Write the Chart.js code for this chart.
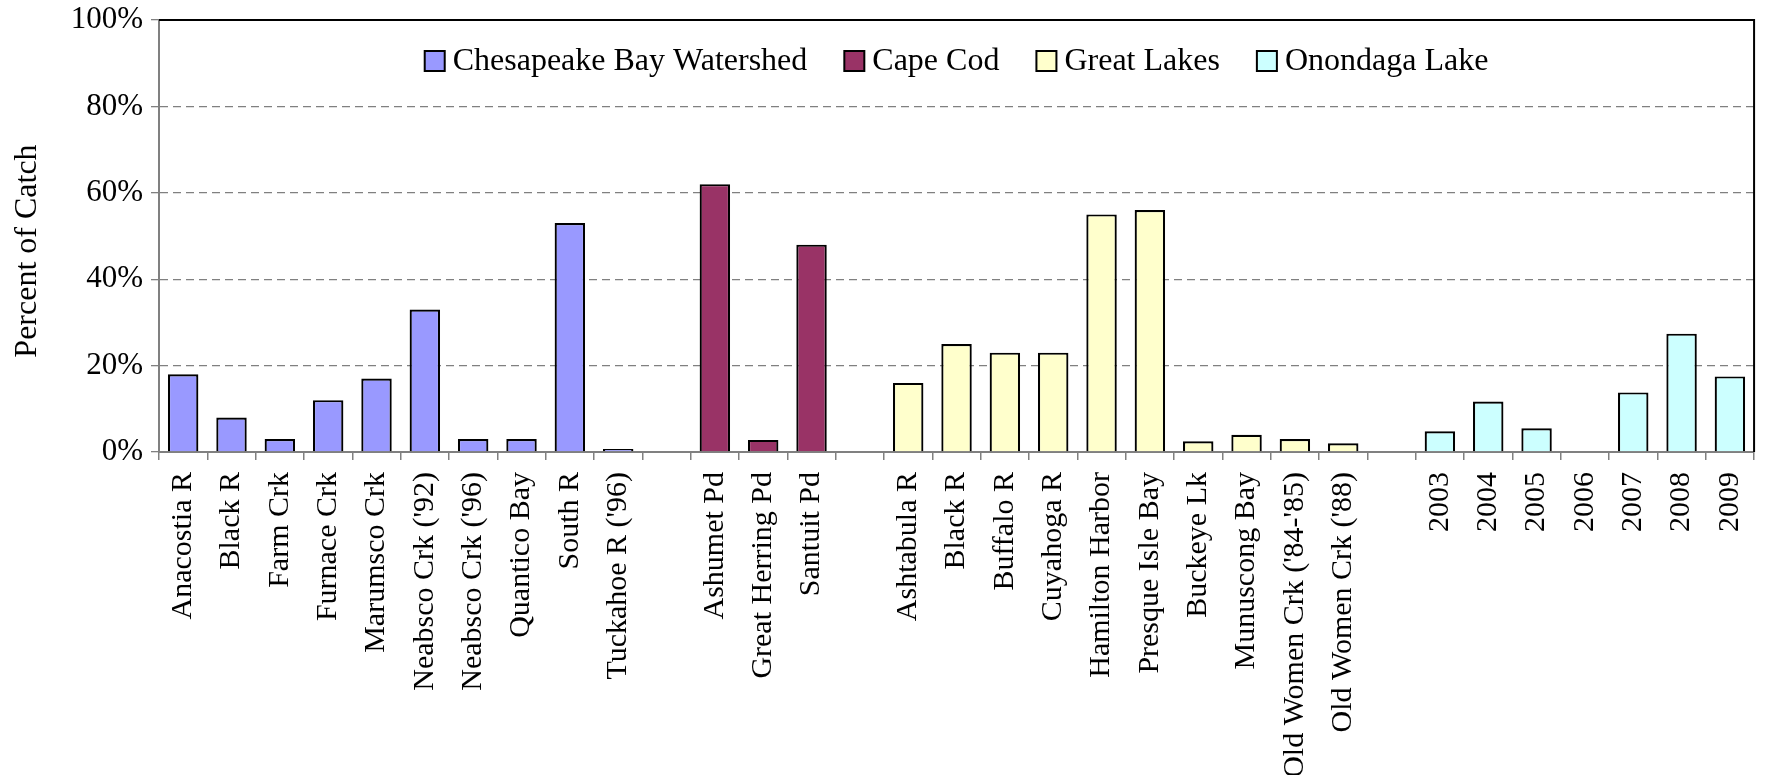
<!DOCTYPE html>
<html>
<head>
<meta charset="utf-8">
<title>Percent of Catch</title>
<script src="https://cdn.jsdelivr.net/npm/chart.js@4.4.1/dist/chart.umd.min.js"></script>
<style>
  html, body { margin: 0; padding: 0; background: #fff; }
  canvas { display: block; }
</style>
</head>
<body>
<canvas id="catchChart" width="1778" height="775"></canvas>
<script>
// Sites and percent of catch, one pair of arrays per region
const chesapeakeSites = ['Anacostia R', 'Black R', 'Farm Crk', 'Furnace Crk', 'Marumsco Crk',
  "Neabsco Crk ('92)", "Neabsco Crk ('96)", 'Quantico Bay', 'South R', "Tuckahoe R ('96)"];
const chesapeakeValues = [18, 8, 3, 12, 17, 33, 3, 3, 53, 0.7];

const capeCodSites = ['Ashumet Pd', 'Great Herring Pd', 'Santuit Pd'];
const capeCodValues = [62, 2.8, 48];

const greatLakesSites = ['Ashtabula R', 'Black R', 'Buffalo R', 'Cuyahoga R', 'Hamilton Harbor',
  'Presque Isle Bay', 'Buckeye Lk', 'Munuscong Bay', "Old Women Crk ('84-'85)", "Old Women Crk ('88)"];
const greatLakesValues = [16, 25, 23, 23, 55, 56, 2.5, 4, 3, 2];

const onondagaYears = ['2003', '2004', '2005', '2006', '2007', '2008', '2009'];
const onondagaValues = [4.8, 11.7, 5.5, 0, 13.8, 27.4, 17.5];

const yTicks = [0, 20, 40, 60, 80, 100];
const yTitle = 'Percent of Catch';

const groups = [
  { name: 'Chesapeake Bay Watershed', sites: chesapeakeSites, values: chesapeakeValues, color: '#9999FF' },
  { name: 'Cape Cod', sites: capeCodSites, values: capeCodValues, color: '#993366' },
  { name: 'Great Lakes', sites: greatLakesSites, values: greatLakesValues, color: '#FFFFCC' },
  { name: 'Onondaga Lake', sites: onondagaYears, values: onondagaValues, color: '#CCFFFF' }
];

// One blank category between regions
const labels = [];
const starts = [];
groups.forEach((g, i) => {
  if (i > 0) labels.push('');
  starts.push(labels.length);
  labels.push(...g.sites);
});

const datasets = groups.map((g, i) => {
  const data = labels.map(() => null);
  g.values.forEach((v, j) => { data[starts[i] + j] = v; });
  return {
    label: g.name,
    data: data,
    backgroundColor: g.color,
    borderColor: '#000',
    borderWidth: 2.2,
    grouped: false,
    barPercentage: 0.63,
    categoryPercentage: 1
  };
});

const FONT = 'Liberation Serif';

// Legend inside the plot area, black frame on top and right, and the y title
const insideLegend = {
  id: 'insideLegend',
  afterDraw(chart) {
    const { ctx, chartArea } = chart;
    ctx.save();
    ctx.strokeStyle = '#000';
    ctx.lineWidth = 2;
    ctx.beginPath();
    ctx.moveTo(chartArea.left, chartArea.top);
    ctx.lineTo(chartArea.right, chartArea.top);
    ctx.lineTo(chartArea.right, chartArea.bottom);
    ctx.stroke();

    ctx.font = '32px "' + FONT + '"';
    ctx.textBaseline = 'middle';
    const box = 20, textGap = 8, itemGap = 37;
    const items = chart.data.datasets.map(ds => ({
      label: ds.label,
      fill: ds.backgroundColor,
      w: ctx.measureText(ds.label).width
    }));
    const total = items.reduce((s, it) => s + box + textGap + it.w, 0) + itemGap * (items.length - 1);
    let x = (chartArea.left + chartArea.right) / 2 - total / 2;
    const cy = chartArea.top + 41;
    items.forEach(it => {
      ctx.fillStyle = it.fill;
      ctx.fillRect(x, cy - box / 2, box, box);
      ctx.strokeRect(x, cy - box / 2, box, box);
      ctx.fillStyle = '#000';
      ctx.fillText(it.label, x + box + textGap, cy + 1);
      x += box + textGap + it.w + itemGap;
    });

    // y axis title, sits a little below the middle of the axis
    ctx.translate(28, (chartArea.top + chartArea.bottom) / 2 + 15);
    ctx.rotate(-Math.PI / 2);
    ctx.textAlign = 'center';
    ctx.fillText(yTitle, 0, 0);
    ctx.restore();
  }
};

new Chart(document.getElementById('catchChart'), {
  type: 'bar',
  data: { labels: labels, datasets: datasets },
  plugins: [insideLegend],
  options: {
    responsive: false,
    animation: false,
    layout: { padding: { top: 20, right: 6, bottom: 0, left: 0 } },
    plugins: {
      legend: { display: false },
      tooltip: { enabled: false }
    },
    scales: {
      x: {
        afterFit: scale => { scale.height = 323; },
        grid: {
          display: true,
          drawOnChartArea: false,
          offset: true,
          tickLength: 8,
          color: '#808080',
          lineWidth: 1.5
        },
        border: { color: '#808080', width: 2 },
        ticks: {
          autoSkip: false,
          minRotation: 90,
          maxRotation: 90,
          padding: 12,
          color: '#000',
          font: { family: FONT, size: 30 }
        }
      },
      y: {
        min: 0,
        max: 100,
        afterFit: scale => {
          scale.width = 159;
          scale.paddingTop = 0;
          scale.paddingBottom = 0;
        },
        afterBuildTicks: scale => { scale.ticks = yTicks.map(v => ({ value: v })); },
        grid: {
          color: c => (c.tick && (c.tick.value === 0 || c.tick.value === 100)) ? 'rgba(0,0,0,0)' : '#808080',
          tickColor: '#808080',
          tickLength: 8,
          lineWidth: 1.3
        },
        border: { color: '#808080', width: 2, dash: [8, 5] },
        ticks: {
          padding: 8,
          color: '#000',
          font: { family: FONT, size: 31 },
          callback: v => v + '%'
        }
      }
    }
  }
});
</script>
</body>
</html>
